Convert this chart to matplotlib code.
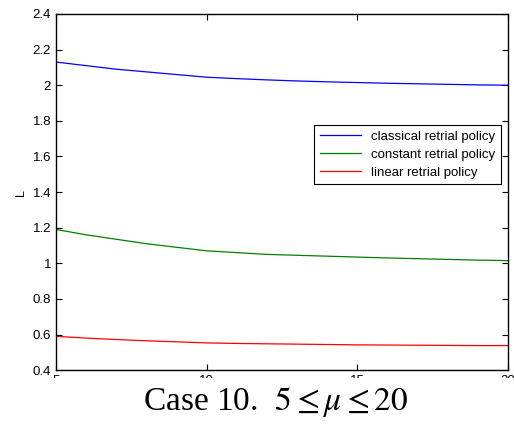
import numpy as np
import matplotlib
matplotlib.use("Agg")
import matplotlib.pyplot as plt
from matplotlib.patches import Rectangle

plt.rcParams['font.family'] = ['Liberation Sans', 'DejaVu Sans']
plt.rcParams['mathtext.fontset'] = 'stix'

# ========== data ==========
mu = [5, 6, 7, 8, 9, 10, 11, 12, 13, 14, 15, 16, 17, 18, 19, 20]
L_classical = [2.13, 2.11, 2.09, 2.075, 2.06, 2.045, 2.037, 2.03, 2.024, 2.019,
               2.015, 2.011, 2.008, 2.005, 2.002, 2.0]
L_constant = [1.19, 1.16, 1.135, 1.11, 1.09, 1.07, 1.06, 1.05, 1.045, 1.04,
              1.035, 1.03, 1.026, 1.022, 1.018, 1.015]
L_linear = [0.59, 0.58, 0.572, 0.565, 0.559, 0.553, 0.55, 0.548, 0.546, 0.544,
            0.542, 0.541, 0.54, 0.539, 0.538, 0.538]
labels = ["classical retrial policy", "constant retrial policy", "linear retrial policy"]
yticks = [0.4, 0.6, 0.8, 1.0, 1.2, 1.4, 1.6, 1.8, 2.0, 2.2, 2.4]
yticklabels = ["0.4", "0.6", "0.8", "1", "1.2", "1.4", "1.6", "1.8", "2", "2.2", "2.4"]
xticks = [5, 10, 15, 20]

fig = plt.figure(figsize=(5.14, 4.24), dpi=100)
ax = fig.add_axes([0.109, 0.127, 0.879, 0.840])
ax.plot(mu, L_classical, c="#0000ff", lw=0.9, label=labels[0])
ax.plot(mu, L_constant, c="#008000", lw=0.9, label=labels[1])
ax.plot(mu, L_linear, c="#ff0000", lw=0.9, label=labels[2])
ax.set_xlim(5, 20)
ax.set_ylim(0.4, 2.4)
ax.set_xticks(xticks)
ax.set_yticks(yticks)
ax.set_yticklabels(yticklabels)
ax.tick_params(direction="in", top=True, right=True, length=4, labelsize=9.5)
for s in ax.spines.values():
    s.set_linewidth(1.0)
ax.set_ylabel("L", fontsize=9)
leg = ax.legend(loc="upper right", bbox_to_anchor=(0.984, 0.688), fontsize=9.5,
                fancybox=False, framealpha=1, edgecolor="black",
                borderaxespad=0, handlelength=3.1, labelspacing=0.45)
leg.get_frame().set_linewidth(0.8)

# caption overlaps the x tick labels
fig.patches.append(Rectangle((0, 0), 1, 0.108, transform=fig.transFigure,
                             facecolor="white", edgecolor="none", zorder=5))
fig.text(0.537, 0.052, r"Case 10.  $5 \leq \mu \leq 20$", ha="center", va="center",
         fontsize=24, family="Liberation Serif", zorder=6)

fig.savefig("out.png", dpi=100)
